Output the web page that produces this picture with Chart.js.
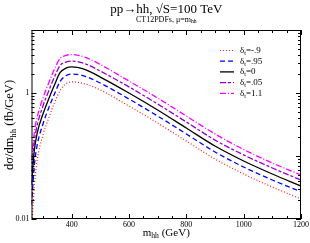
<!DOCTYPE html>
<html>
<head>
<meta charset="utf-8">
<script src="https://cdn.jsdelivr.net/npm/chart.js@4.4.0/dist/chart.umd.min.js"></script>
<style>
  html, body { margin: 0; padding: 0; background: #fff; }
</style>
</head>
<body>
<canvas id="c" width="310" height="243"></canvas>
<script>
// invariant mass points (GeV)
const mhh = [260, 270, 280, 300, 320, 340, 360, 380, 400, 420, 450, 500, 600, 700, 800, 900, 1000, 1100, 1200];

// dsigma/dm_hh (fb/GeV)
const dtM09 = [0.0067, 0.0347, 0.0864, 0.216, 0.401, 0.694, 1.10, 1.40, 1.50, 1.48, 1.38, 1.12, 0.622, 0.334, 0.173, 0.0896, 0.0518, 0.0322, 0.0208];
const dt095 = [0.0167, 0.072, 0.150, 0.322, 0.578, 0.964, 1.53, 1.88, 2.00, 1.97, 1.82, 1.44, 0.803, 0.431, 0.224, 0.116, 0.0669, 0.0416, 0.0271];
const dt0   = [0.0347, 0.124, 0.232, 0.464, 0.803, 1.34, 2.12, 2.48, 2.60, 2.55, 2.32, 1.79, 1.00, 0.537, 0.278, 0.144, 0.0833, 0.0518, 0.0334];
const dt005 = [0.0557, 0.173, 0.310, 0.622, 1.08, 1.79, 2.75, 3.10, 3.22, 3.15, 2.88, 2.23, 1.25, 0.669, 0.347, 0.179, 0.104, 0.0645, 0.0416];
const dt11  = [0.0864, 0.240, 0.416, 0.833, 1.44, 2.40, 3.55, 3.95, 4.08, 4.00, 3.65, 2.83, 1.55, 0.833, 0.431, 0.224, 0.127, 0.0774, 0.0499];

const legendLabels = ['=-.9', '=.95', '=0', '=.05', '=1.1'];
const xTickLabels = [400, 600, 800, 1000, 1200];
const yTickLabels = [0.01, 1];

const SERIF = '"Liberation Serif", "DejaVu Serif", serif';

function series(vals) {
  return mhh.map((m, i) => ({ x: m, y: vals[i] }));
}

// text with subscript pieces: parts = [[text, isSub], ...]
function richWidth(ctx, parts, size) {
  let w = 0;
  parts.forEach(([t, sub]) => {
    ctx.font = (sub ? size * 0.7 : size) + 'px ' + SERIF;
    w += ctx.measureText(t).width;
  });
  return w;
}
function richText(ctx, parts, x, y, size, align) {
  const w = richWidth(ctx, parts, size);
  let cx = align === 'center' ? x - w / 2 : (align === 'right' ? x - w : x);
  ctx.textAlign = 'left';
  ctx.textBaseline = 'middle';
  parts.forEach(([t, sub]) => {
    ctx.font = (sub ? size * 0.7 : size) + 'px ' + SERIF;
    ctx.fillText(t, cx, sub ? y + size * 0.3 : y);
    cx += ctx.measureText(t).width;
  });
}

const frame = {
  id: 'frame',
  afterDraw(chart) {
    const ctx = chart.ctx;
    const a = chart.chartArea;
    const xs = chart.scales.x, ys = chart.scales.y;
    ctx.save();
    ctx.fillStyle = '#000';
    ctx.strokeStyle = '#000';
    ctx.lineWidth = 1;
    ctx.strokeRect(a.left + 0.5, a.top + 0.5, a.right - a.left - 1, a.bottom - a.top - 1);

    // x ticks, inward on bottom and top
    ctx.beginPath();
    for (let v = 300; v <= 1200; v += 50) {
      const px = Math.round(xs.getPixelForValue(v)) + 0.5;
      const len = v % 200 === 0 ? 5 : 3;
      ctx.moveTo(px, a.bottom); ctx.lineTo(px, a.bottom - len);
      ctx.moveTo(px, a.top); ctx.lineTo(px, a.top + len);
    }
    // y ticks, inward on left and right
    for (let e = -2; e <= 1; e++) {
      for (let k = 1; k <= 9; k++) {
        const v = k * Math.pow(10, e);
        if (v < 0.01 || v > 10) continue;
        const py = Math.round(ys.getPixelForValue(v)) + 0.5;
        const len = k === 1 ? 5 : 3;
        ctx.moveTo(a.left, py); ctx.lineTo(a.left + len, py);
        ctx.moveTo(a.right, py); ctx.lineTo(a.right - len, py);
      }
    }
    ctx.stroke();

    ctx.font = '8px ' + SERIF;
    ctx.textAlign = 'center';
    ctx.textBaseline = 'middle';
    xTickLabels.forEach(v => ctx.fillText(String(v), xs.getPixelForValue(v), a.bottom + 6));
    ctx.textAlign = 'right';
    yTickLabels.forEach(v => ctx.fillText(String(v), a.left - 2, ys.getPixelForValue(v)));

    // titles
    const cx = (a.left + a.right) / 2;
    ctx.font = '13px ' + SERIF;
    ctx.textAlign = 'center';
    ctx.fillText('pp\u2192hh, \u221AS=100 TeV', cx, 10);
    richText(ctx, [['CT12PDFs, \u03BC=m', false], ['hh', true]], cx, 19.5, 8, 'center');
    richText(ctx, [['m', false], ['hh', true], [' (GeV)', false]], cx, 233, 11, 'center');

    ctx.save();
    ctx.translate(10, 125);
    ctx.rotate(-Math.PI / 2);
    richText(ctx, [['d\u03C3/dm', false], ['hh', true], [' (fb/GeV)', false]], 0, 0, 12.5, 'center');
    ctx.restore();

    // legend
    chart.data.datasets.forEach((ds, i) => {
      const y = 50.5 + i * 10.7;
      ctx.save();
      ctx.strokeStyle = ds.borderColor;
      ctx.lineWidth = ds.borderWidth;
      ctx.setLineDash(ds.borderDash || []);
      ctx.beginPath();
      ctx.moveTo(220, y); ctx.lineTo(234, y);
      ctx.stroke();
      ctx.restore();
      richText(ctx, [['\u03B4', false], ['t', true], [legendLabels[i], false]], 240, y, 9, 'left');
    });
    ctx.restore();
  }
};

const line = (vals, color, dash, width) => ({
  data: series(vals),
  borderColor: color,
  borderDash: dash,
  borderWidth: width,
  pointRadius: 0,
  fill: false,
  cubicInterpolationMode: 'monotone'
});

new Chart(document.getElementById('c'), {
  type: 'line',
  data: {
    datasets: [
      line(dtM09, '#ff1a1a', [1, 2], 1.2),
      line(dt095, '#0000ff', [5, 3], 1.3),
      line(dt0, '#000000', [], 1.3),
      line(dt005, '#9400d3', [6, 2, 3, 2], 1.3),
      line(dt11, '#ff00ff', [6, 2, 1, 2], 1.3)
    ]
  },
  options: {
    responsive: false,
    animation: false,
    layout: { padding: { left: 31.5, right: 9, top: 30, bottom: 24 } },
    plugins: { legend: { display: false }, tooltip: { enabled: false } },
    scales: {
      x: { type: 'linear', min: 260, max: 1200, display: false },
      y: { type: 'logarithmic', min: 0.01, max: 10, display: false }
    }
  },
  plugins: [frame]
});
</script>
</body>
</html>
